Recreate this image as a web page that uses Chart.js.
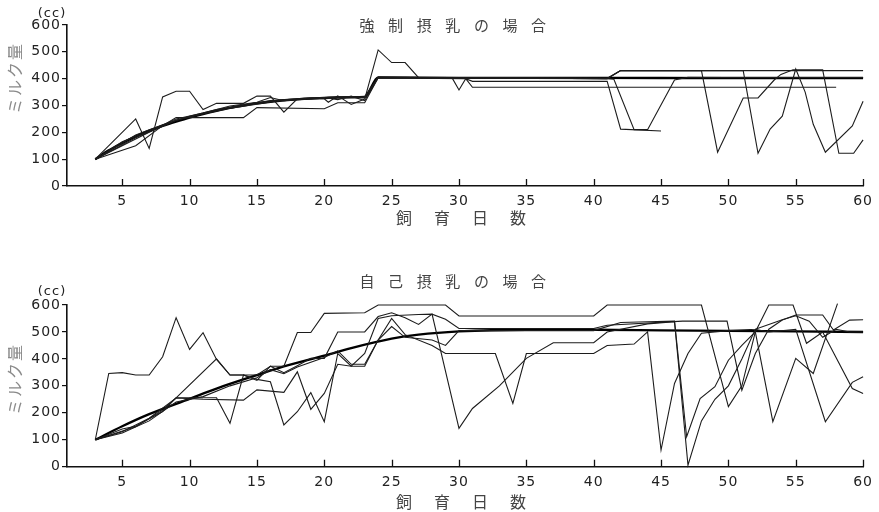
<!DOCTYPE html>
<html>
<head>
<meta charset="utf-8">
<script src="https://cdn.jsdelivr.net/npm/chart.js@4/dist/chart.umd.min.js"></script>
<style>
  html, body { margin: 0; padding: 0; background: #fff; }
  #wrap { width: 879px; height: 512px; }
  canvas { display: block; }
</style>
</head>
<body>
<div id="wrap">
  <canvas id="forced" width="879" height="256"></canvas>
  <canvas id="self" width="879" height="256"></canvas>
</div>
<script>
// Axis ticks
const dayTicks = [5, 10, 15, 20, 25, 30, 35, 40, 45, 50, 55, 60];
const mlTicks = [0, 100, 200, 300, 400, 500, 600];

// ---- 強制摂乳: [rearing day, milk cc] ----
const forcedMean = [[3,100],[4,133],[5,160],[6,185],[7,206],[8,224],[9,240],[10,255],[11,268],[12,280],[13,291],[14,300],[15,308],[16,314],[17,319],[18,323],[19,326],[20,328],[21,330],[22,331],[23,332],[24,405],[30,403],[40,403],[50,402],[60,402]];
const forcedA = [[3,100],[6,250],[7,140],[8,332],[9,353],[10,353],[11,285],[12,308],[14,308],[15,335],[16,335],[17,275],[18,325],[20,325],[20.3,312],[21,336],[22,304],[23,324],[24,507],[25,460],[26,460],[27,404],[29.5,402],[30,358],[30.5,400],[31,390],[41,390],[42,212],[45,205]];
const forcedB = [[3,100],[6,150],[8,225],[9,255],[14,255],[15,292],[20,288],[21,310],[23,310],[24,403],[41,400],[42,430],[48,430],[49.2,126],[51.1,328],[52.2,328],[53.4,395],[53.9,416],[54.8,433],[57,433],[58.2,122],[59.3,122],[60,172]];
const forcedC = [[3,100],[5,165],[7,205],[9,250],[11,272],[13,298],[15,312],[16,330],[17,318],[19,328],[20,330],[21,322],[22,335],[23,318],[24,403],[30.5,400],[31,368],[58,368]];
const forcedD = [[3,100],[5,150],[7,200],[9,245],[11,268],[13,290],[15,305],[17,322],[19,326],[21,332],[23,328],[24,405],[41,400],[42,430],[51.1,430],[52.2,122],[53.1,212],[54,260],[55,436],[55.7,350],[56.3,230],[57.2,126],[59.2,224],[60,316]];
const forcedE = [[3,100],[6,190],[8,228],[10,260],[12,285],[14,302],[16,318],[18,325],[20,330],[22,333],[23,330],[24,405],[41,400],[41.5,398],[43,210],[44,210],[46,395],[47,405],[60,405]];
const forcedF = [[3,100],[6,180],[9,245],[12,282],[15,310],[18,322],[21,330],[23,333],[24,405],[41,402],[42,430],[60,430]];

// ---- 自己摂乳: [rearing day, milk cc] ----
const selfMean = [[3,100],[5,150],[7,195],[10,252],[12,290],[15,340],[17,372],[20,412],[22,440],[25,475],[27,490],[30,502],[35,508],[40,508],[45,506],[50,504],[55,502],[60,500]];
const selfA = [[3,100],[4,346],[5,349],[6,340],[7,340],[8,408],[9,553],[10,435],[11,497],[12,398],[13,340],[15,340],[16,373],[17,373],[18,498],[19,498],[20,569],[23,571],[24,600],[29,600],[30,559],[40,559],[41,600],[48,600],[50,223],[51,300],[52,500],[53,600],[54.8,600],[55.8,458],[57,500],[59.2,290],[60,272]];
const selfB = [[3,100],[5,140],[6,150],[8,205],[9,255],[12,400],[13,340],[14,340],[15,320],[16,373],[17,349],[18,375],[19,402],[20,402],[21,500],[23,500],[24,557],[25,571],[26,553],[27,528],[28,566],[29,547],[30,513],[40,513],[41,525],[46.6,540],[49.9,540],[51,284],[52,420],[53,510],[54,544],[55,563],[57,563],[57.8,507],[59,544],[60,545]];
const selfC = [[3,100],[6,148],[8,210],[9,256],[12,256],[13,161],[14,340],[15,324],[16,315],[17,155],[18,204],[19,275],[20,167],[21,420],[22,373],[23,373],[24,470],[25,550],[26,490],[28,450],[29,420],[32.7,420],[34,235],[35,420],[40,420],[41,450],[43,455],[44,500],[45,62],[46,309],[47,420],[48,495],[50,505],[52,510],[54,545],[55,560],[56,540],[57,480],[58,510],[59,500],[60,500]];
const selfD = [[3,100],[5,130],[7,180],[9,255],[11,250],[14,247],[15,285],[17,276],[18,352],[19,213],[20,272],[21,380],[22,373],[23,420],[24,550],[25,560],[27,565],[28,566],[30,142],[31,216],[33,300],[35,402],[37,460],[40,460],[41,500],[44,530],[46,538],[47,6],[48,170],[49,250],[50,300],[51,400],[52,510],[53,500],[55,510],[57.2,167],[59.2,313],[60,334]];
const selfE = [[3,100],[5,125],[7,170],[9,240],[11,260],[13,300],[15,330],[16,360],[17,345],[18,370],[20,405],[21,430],[22,380],[23,380],[24,470],[25,520],[26,480],[28,470],[29,450],[30,505],[40,505],[42,535],[44,538],[46,540],[46.9,111],[47.9,253],[49,297],[50,395],[51,450],[52,500],[53.3,167],[55,402],[56.3,346],[58.1,605]];

const toPoints = arr => arr.map(([d, v]) => ({ x: d, y: v }));

function thin(arr) {
  return { data: toPoints(arr), borderColor: '#1c1c1c', borderWidth: 1.1, pointRadius: 0, tension: 0, clip: 8 };
}
function thick(arr) {
  return { data: toPoints(arr), borderColor: '#000', borderWidth: 2.4, pointRadius: 0, cubicInterpolationMode: 'monotone', clip: 8 };
}

// Panel captions, rotated y title, unit and inward x tick marks
const panelText = {
  id: 'panelText',
  beforeDraw(chart) { chart.ctx.letterSpacing = '1px'; },
  afterDraw(chart, args, o) {
    const { ctx, chartArea: a, scales: { x } } = chart;
    ctx.save();
    ctx.letterSpacing = '0px';
    ctx.strokeStyle = '#111';
    ctx.lineWidth = 1.3;
    ctx.beginPath();
    dayTicks.forEach(d => {
      const px = Math.round(x.getPixelForValue(d)) + 0.5;
      ctx.moveTo(px, a.bottom);
      ctx.lineTo(px, a.bottom - 7);
    });
    ctx.stroke();

    ctx.textAlign = 'center';
    ctx.textBaseline = 'middle';
    ctx.fillStyle = '#444';
    ctx.font = '15px "Noto Sans CJK JP"';
    [...o.title].forEach((ch, i) => ctx.fillText(ch, 367 + i * 28.6, o.titleY));

    ctx.font = '16px "Noto Sans CJK JP"';
    [...'飼育日数'].forEach((ch, i) => ctx.fillText(ch, 404 + i * 38, o.xTitleY));

    ctx.fillStyle = '#222';
    ctx.font = '13px "DejaVu Sans"';
    ctx.letterSpacing = '1px';
    ctx.fillText('(cc)', 52, o.unitY);
    ctx.letterSpacing = '0px';

    ctx.fillStyle = '#8a8a8a';
    ctx.font = '16px "Noto Sans CJK JP"';
    ctx.translate(15, o.yTitleY);
    ctx.rotate(-Math.PI / 2);
    [...'ミルク量'].forEach((ch, i) => ctx.fillText(ch, (i - 1.5) * 18, 0));
    ctx.restore();
  }
};

function makePanel(id, seriesList, mean, g) {
  new Chart(document.getElementById(id), {
    type: 'line',
    data: { datasets: [...seriesList.map(thin), thick(mean)] },
    plugins: [panelText],
    options: {
      responsive: false,
      animation: false,
      devicePixelRatio: 1,
      layout: { padding: { top: g.top, right: 13, left: 0, bottom: 0 } },
      plugins: {
        legend: { display: false },
        tooltip: { enabled: false },
        panelText: g.text
      },
      scales: {
        x: {
          type: 'linear',
          min: 0.9,
          max: 60,
          afterBuildTicks: s => { s.ticks = dayTicks.map(v => ({ value: v })); },
          afterFit: s => { s.height = g.axisH; },
          grid: { display: false, drawTicks: false },
          border: { display: true, color: '#111', width: 1.6 },
          ticks: { padding: 7, color: '#222', font: { family: 'DejaVu Sans', size: 14 }, maxRotation: 0, autoSkip: false }
        },
        y: {
          min: 0,
          max: 600,
          afterBuildTicks: s => { s.ticks = mlTicks.map(v => ({ value: v })); },
          afterFit: s => { s.width = 67; },
          grid: { display: true, drawOnChartArea: false, drawTicks: true, tickLength: 5, color: '#111', lineWidth: 1.2 },
          border: { display: true, color: '#111', width: 1.6 },
          ticks: { padding: 1, color: '#222', font: { family: 'DejaVu Sans', size: 14 } }
        }
      }
    }
  });
}

makePanel('forced', [forcedA, forcedB, forcedC, forcedD, forcedE, forcedF], forcedMean, {
  top: 25, axisH: 70,
  text: { title: '強制摂乳の場合', titleY: 25, xTitleY: 218, yTitleY: 79, unitY: 13.5 }
});
makePanel('self', [selfA, selfB, selfC, selfD, selfE], selfMean, {
  top: 49, axisH: 45.3,
  text: { title: '自己摂乳の場合', titleY: 25.5, xTitleY: 245.5, yTitleY: 124, unitY: 36 }
});
</script>
</body>
</html>
